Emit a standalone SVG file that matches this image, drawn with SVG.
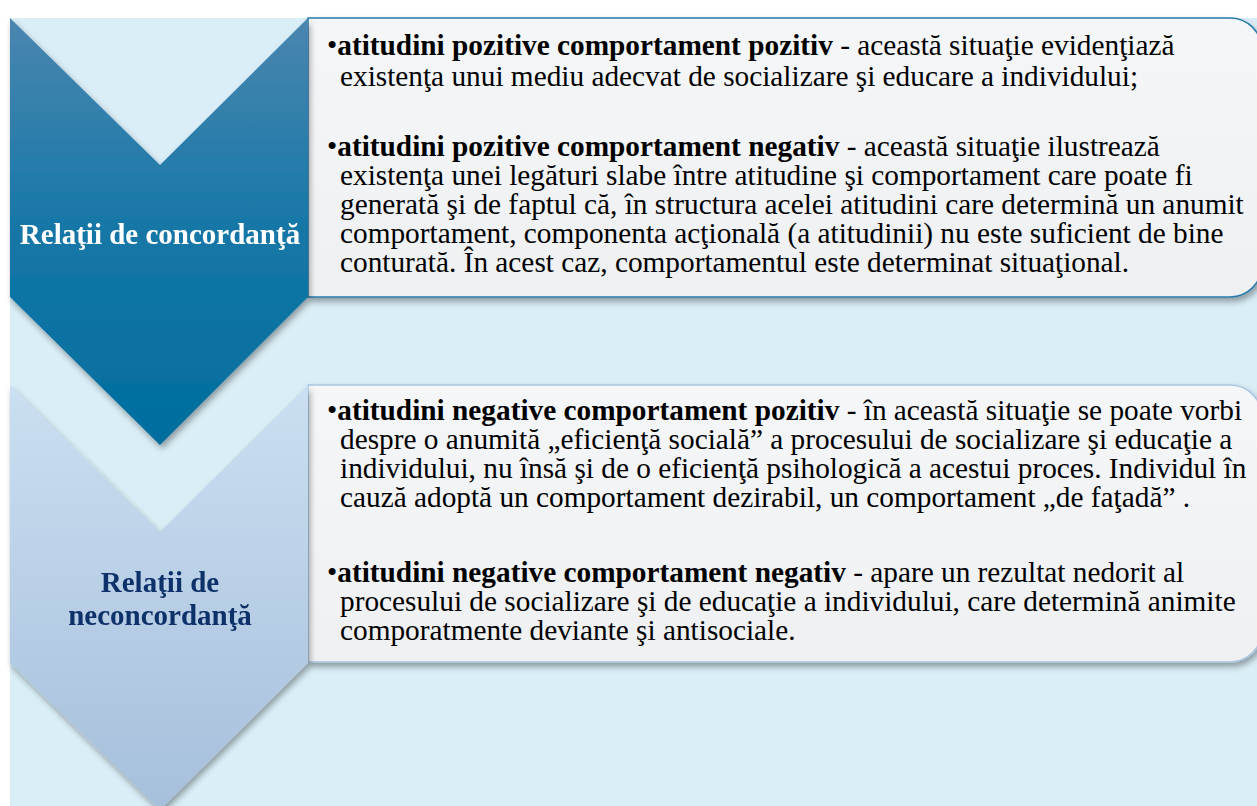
<svg xmlns="http://www.w3.org/2000/svg" width="1257" height="806" viewBox="0 0 1257 806">
<defs>
<linearGradient id="gDark" x1="0" y1="0" x2="0" y2="1">
<stop offset="0" stop-color="#4a86b0"/>
<stop offset="0.5" stop-color="#1677a7"/>
<stop offset="1" stop-color="#006d9e"/>
</linearGradient>
<linearGradient id="gLight" x1="0" y1="0" x2="0" y2="1">
<stop offset="0" stop-color="#cadff1"/>
<stop offset="1" stop-color="#a6bfdb"/>
</linearGradient>
<linearGradient id="gBox" x1="0" y1="0" x2="0" y2="1">
<stop offset="0" stop-color="#f5f6f7"/>
<stop offset="1" stop-color="#eef0f2"/>
</linearGradient>
<filter id="sh" x="-10%" y="-10%" width="130%" height="130%">
<feDropShadow dx="2" dy="4" stdDeviation="3" flood-color="#000" flood-opacity="0.35"/>
</filter>
</defs>
<style>
.body{font-family:"Liberation Serif","Times New Roman",serif;font-size:29.3px;fill:#000}
.b{font-weight:bold}
.lbl{font-family:"Liberation Serif","Times New Roman",serif;font-size:29px;font-weight:bold;text-anchor:middle}
</style>
<rect x="0" y="0" width="1257" height="806" fill="#ffffff"/>
<rect x="10" y="18" width="1247" height="788" fill="#daeef7"/>

<g id="box1" filter="url(#sh)">
<path d="M308,18 H1230 A32,32 0 0 1 1262,50 V265 A32,32 0 0 1 1230,297 H308 Z" fill="url(#gBox)" stroke="#2a7aaa" stroke-width="1.5"/>
</g>
<g id="box2" filter="url(#sh)">
<path d="M308,385 H1230 A32,32 0 0 1 1262,417 V630 A32,32 0 0 1 1230,662 H308 Z" fill="url(#gBox)" stroke="#a9c6e2" stroke-width="1.5"/>
</g>

<g id="chevron1" filter="url(#sh)">
<polygon points="10,18 160,165 308,18 308,297 160,445 10,297" fill="url(#gDark)"/>
<text class="lbl" x="160" y="244" fill="#ffffff">Relaţii de concordanţă</text>
</g>
<g id="chevron2" filter="url(#sh)">
<polygon points="10,385 160,532 308,385 308,663 160,810 10,663" fill="url(#gLight)"/>
<text class="lbl" x="160" y="592" fill="#10306a">Relaţii de</text>
<text class="lbl" x="160" y="625" fill="#10306a">neconcordanţă</text>
</g>

<g id="text1" class="body">
<text x="327" y="55">•<tspan class="b">atitudini pozitive comportament pozitiv</tspan> - această situaţie evidenţiază</text>
<text x="340" y="86">existenţa unui mediu adecvat de socializare şi educare a individului;</text>
<text x="327" y="156">•<tspan class="b">atitudini pozitive comportament negativ</tspan> - această situaţie ilustrează</text>
<text x="340" y="185">existenţa unei legături slabe între atitudine şi comportament care poate fi</text>
<text x="340" y="214">generată şi de faptul că, în structura acelei atitudini care determină un anumit</text>
<text x="340" y="243">comportament, componenta acţională (a atitudinii) nu este suficient de bine</text>
<text x="340" y="272">conturată. În acest caz, comportamentul este determinat situaţional.</text>
</g>
<g id="text2" class="body">
<text x="327" y="420">•<tspan class="b">atitudini negative comportament pozitiv</tspan> - în această situaţie se poate vorbi</text>
<text x="340" y="449">despre o anumită „eficienţă socială” a procesului de socializare şi educaţie a</text>
<text x="340" y="478">individului, nu însă şi de o eficienţă psihologică a acestui proces. Individul în</text>
<text x="340" y="507">cauză adoptă un comportament dezirabil, un comportament „de faţadă” .</text>
<text x="327" y="582">•<tspan class="b">atitudini negative comportament negativ</tspan> - apare un rezultat nedorit al</text>
<text x="340" y="611">procesului de socializare şi de educaţie a individului, care determină animite</text>
<text x="340" y="640">comporatmente deviante şi antisociale.</text>
</g>
</svg>
